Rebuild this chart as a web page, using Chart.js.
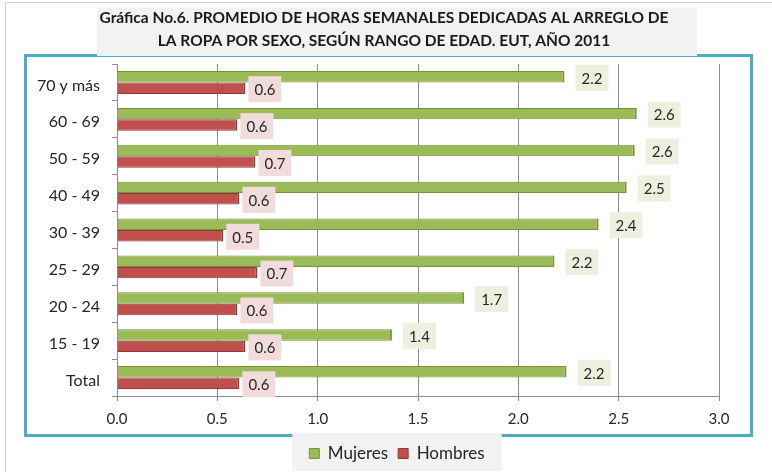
<!DOCTYPE html>
<html>
<head>
<meta charset="utf-8">
<script src="https://cdn.jsdelivr.net/npm/chart.js@4"></script>
<style>
  html, body { margin: 0; padding: 0; background: #fff; }
  #wrap { width: 772px; height: 472px; position: relative; }
</style>
</head>
<body>
<div id="wrap"><canvas id="grafica"></canvas></div>
<script>
// Datos de la gráfica (horas semanales, arreglo de la ropa)
const rangos = ['70 y más', '60 - 69', '50 - 59', '40 - 49', '30 - 39', '25 - 29', '20 - 24', '15 - 19', 'Total'];
const mujeres = [2.23, 2.59, 2.58, 2.54, 2.40, 2.18, 1.73, 1.37, 2.24];
const hombres = [0.64, 0.60, 0.69, 0.61, 0.53, 0.70, 0.60, 0.64, 0.61];
const ticksX = [0, 0.5, 1.0, 1.5, 2.0, 2.5, 3.0];
const titulo = [
  'Gráfica No.6. PROMEDIO DE HORAS SEMANALES DEDICADAS AL ARREGLO DE',
  'LA ROPA POR SEXO, SEGÚN RANGO DE EDAD. EUT, AÑO 2011'
];

const FUENTE = 'Lato, "Open Sans", sans-serif';

// Marco exterior, recuadro azul, título y fondo de la leyenda
const marcos = {
  id: 'marcos',
  afterLayout(chart) {
    // la leyenda del original está algo corrida a la derecha
    chart.legend.left += 24;
    chart.legend.right += 24;
  },
  beforeDraw(chart) {
    const ctx = chart.ctx;
    ctx.save();
    // borde del área del gráfico (gris claro)
    ctx.strokeStyle = '#d0d0d0';
    ctx.lineWidth = 1;
    ctx.beginPath();
    ctx.moveTo(5.5, 472);
    ctx.lineTo(5.5, 2.5);
    ctx.lineTo(772, 2.5);
    ctx.stroke();
    // recuadro azul
    ctx.strokeStyle = '#4bacc6';
    ctx.lineWidth = 3;
    ctx.strokeRect(25.5, 55.5, 726, 380);
    // título con fondo gris
    ctx.fillStyle = '#f2f2f2';
    ctx.fillRect(97, 8, 600, 48);
    ctx.fillStyle = '#1a1a1a';
    ctx.font = 'bold 15.5px ' + FUENTE;
    ctx.textAlign = 'center';
    ctx.textBaseline = 'middle';
    titulo.forEach((linea, i) => ctx.fillText(linea, 384, 18 + i * 23));
    // fondo de la leyenda
    const lg = chart.legend;
    if (lg && lg.lineWidths) {
      const centro = (lg.left + lg.right) / 2;
      const ancho = lg.lineWidths[0];
      ctx.fillStyle = '#f2f2f2';
      ctx.fillRect(centro - ancho / 2 - 12, 433, ancho + 24, 38);
    }
    ctx.restore();
  }
};

// Etiquetas de valor con fondo de color
const etiquetas = {
  id: 'etiquetas',
  afterDatasetsDraw(chart) {
    const ctx = chart.ctx;
    ctx.save();
    ctx.font = '15px ' + FUENTE;
    ctx.textBaseline = 'middle';
    ctx.textAlign = 'center';
    chart.data.datasets.forEach((ds, i) => {
      const meta = chart.getDatasetMeta(i);
      const separacion = i === 0 ? 11 : 3;
      const fondo = i === 0 ? '#ebf1de' : '#f2dcdb';
      meta.data.forEach((barra, j) => {
        const texto = ds.data[j].toFixed(1);
        const w = ctx.measureText(texto).width + 12;
        const h = 26;
        const x = barra.x + separacion;
        const y = barra.y + 1;
        ctx.fillStyle = fondo;
        ctx.fillRect(x, y - h / 2, w, h);
        ctx.fillStyle = '#262626';
        ctx.fillText(texto, x + w / 2, y + 1);
      });
    });
    ctx.restore();
  }
};

new Chart(document.getElementById('grafica'), {
  type: 'bar',
  data: {
    labels: rangos,
    datasets: [
      {
        label: 'Mujeres',
        data: mujeres,
        backgroundColor: '#9bbb59',
        borderColor: '#76923c',
        borderWidth: { top: 1, bottom: 1, right: 2, left: 0 },
        borderSkipped: false
      },
      {
        label: 'Hombres',
        data: hombres,
        backgroundColor: '#c0504d',
        borderColor: '#943634',
        borderWidth: { top: 1, bottom: 1, right: 2, left: 0 },
        borderSkipped: false
      }
    ]
  },
  options: {
    indexAxis: 'y',
    responsive: true,
    maintainAspectRatio: false,
    animation: false,
    datasets: { bar: { barPercentage: 1.0, categoryPercentage: 0.62 } },
    layout: { padding: { left: 27, right: 53, top: 64, bottom: 0 } },
    scales: {
      x: {
        min: 0,
        max: 3,
        afterBuildTicks: (s) => { s.ticks = ticksX.map(v => ({ value: v })); },
        afterFit: (s) => { s.height = 39; },
        ticks: {
          color: '#262626',
          font: { family: FUENTE, size: 15 },
          padding: 9,
          callback: (v) => Number(v).toFixed(1)
        },
        grid: { color: '#8c8c8c', tickLength: 5 },
        border: { color: '#8c8c8c' }
      },
      y: {
        afterFit: (s) => { s.width = 90; },
        ticks: {
          color: '#262626',
          font: { family: FUENTE, size: 16 },
          padding: 12,
          labelOffset: 3
        },
        grid: { drawOnChartArea: false, color: '#8c8c8c', tickLength: 5 },
        border: { color: '#8c8c8c' }
      }
    },
    plugins: {
      title: { display: false },
      legend: {
        position: 'bottom',
        labels: {
          color: '#262626',
          font: { family: FUENTE, size: 17 },
          boxWidth: 10,
          boxHeight: 10,
          padding: 10
        }
      },
      tooltip: { enabled: false }
    }
  },
  plugins: [marcos, etiquetas]
});
</script>
</body>
</html>
